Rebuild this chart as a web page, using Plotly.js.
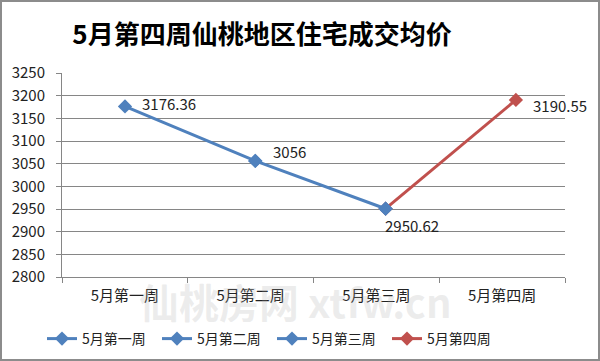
<!DOCTYPE html>
<html><head><meta charset="utf-8">
<script src="https://cdn.plot.ly/plotly-3.0.1.min.js"></script>
<style>body{margin:0;background:#fff}#chart{width:600px;height:361px}</style>
</head><body><div id="chart"></div>
<script>
const categories = ['5月第一周', '5月第二周', '5月第三周', '5月第四周'];
const prices = [3176.36, 3056, 2950.62, 3190.55];
const priceLabels = ['3176.36', '3056', '2950.62', '3190.55'];
const yTicks = [2800, 2850, 2900, 2950, 3000, 3050, 3100, 3150, 3200, 3250];
const titleText = '5月第四周仙桃地区住宅成交均价';
const watermark = '仙桃房网 xtfw.cn';

const blue = '#4F81BD', red = '#C0504D';
const F = '"Noto Sans CJK SC", "Noto Sans", sans-serif';
const M = {l: 62, r: 35, t: 73, b: 84, autoexpand: false};
const W = 600, H = 361;
const pw = W - M.l - M.r, ph = H - M.t - M.b;

function lineTrace(xs, ys, name, color, rank) {
  return {
    type: 'scatter', mode: 'lines+markers', x: xs, y: ys, name: name,
    xaxis: 'x2', yaxis: 'y', legendrank: rank, cliponaxis: false,
    line: {color: color, width: 3},
    marker: {symbol: 'diamond', size: 11, color: color}
  };
}
const traces = [
  lineTrace(categories.slice(2), prices.slice(2), categories[3], red, 4),
  lineTrace(categories.slice(0, 3), prices.slice(0, 3), categories[0], blue, 1),
  lineTrace([categories[1]], [prices[1]], categories[1], blue, 2),
  lineTrace([categories[2]], [prices[2]], categories[2], blue, 3),
  {type: 'scatter', mode: 'markers', x: categories, y: prices, xaxis: 'x', yaxis: 'y',
   showlegend: false, hoverinfo: 'skip', marker: {opacity: 0}}
];

const labelOffsets = [
  {xanchor: 'left', xshift: 15, yshift: 3},
  {xanchor: 'left', xshift: 16, yshift: 9},
  {xanchor: 'left', xshift: -3, yshift: -17},
  {xanchor: 'left', xshift: 15, yshift: -6}
];
const annotations = prices.map((v, i) => Object.assign({
  x: categories[i], y: v, xref: 'x2', yref: 'y', text: priceLabels[i],
  showarrow: false, yanchor: 'middle',
  font: {family: F, size: 15, color: '#222'}
}, labelOffsets[i]));
annotations.push({
  xref: 'paper', yref: 'paper', x: (295 - M.l) / pw, y: (H - M.b - 301) / ph,
  text: watermark, showarrow: false, xanchor: 'center', yanchor: 'middle',
  font: {family: '"Noto Sans CJK SC", serif', size: 40, color: 'rgba(170,170,170,0.22)', weight: 700}
});

const layout = {
  width: W, height: H, margin: M,
  paper_bgcolor: '#fff', plot_bgcolor: '#fff',
  title: {text: titleText, x: 262 / W, xanchor: 'center', y: 1 - 35 / H, yanchor: 'middle',
    font: {family: '"Noto Sans CJK SC", sans-serif', size: 26, color: '#000', weight: 700}},
  showlegend: true,
  legend: {orientation: 'h', x: (42 - M.l) / pw, xanchor: 'left', y: (H - M.b - 339) / ph, yanchor: 'middle',
    font: {family: F, size: 14, color: '#222'}, itemwidth: 30, entrywidth: 70, traceorder: 'normal',
    bgcolor: 'rgba(0,0,0,0)'},
  xaxis: {type: 'category', range: [-0.5, 3.5], showgrid: false, showline: true, linecolor: '#868686', linewidth: 1,
    ticks: 'outside', tickson: 'boundaries', ticklen: 5, tickcolor: '#868686', ticklabelstandoff: 5,
    tickfont: {family: F, size: 15, color: '#222'}, fixedrange: true, zeroline: false},
  xaxis2: {type: 'category', overlaying: 'x', visible: false, range: [(M.l - 125) / 130.3, (M.l + pw - 125) / 130.3],
    categoryorder: 'array', categoryarray: categories},
  yaxis: {range: [2800, 3250], tickvals: yTicks, ticktext: yTicks.map(String), showgrid: true, gridcolor: '#868686', gridwidth: 1,
    showline: true, linecolor: '#868686', ticks: 'outside', ticklen: 5, tickcolor: '#868686', ticklabelstandoff: 8,
    tickfont: {family: F, size: 15, color: '#222'}, zeroline: false, fixedrange: true},
  annotations: annotations,
  shapes: [{type: 'rect', xref: 'paper', yref: 'paper',
    x0: (1 - M.l) / pw, x1: (W - 1 - M.l) / pw, y0: (H - M.b - (H - 1)) / ph, y1: (H - M.b - 1) / ph,
    line: {color: '#8c8c8c', width: 2}, fillcolor: 'rgba(0,0,0,0)', layer: 'above'}]
};
Plotly.newPlot('chart', traces, layout, {staticPlot: true, displayModeBar: false});
</script></body></html>
